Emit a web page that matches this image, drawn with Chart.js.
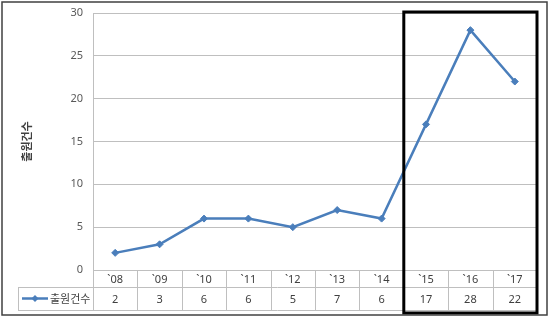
<!DOCTYPE html>
<html>
<head>
<meta charset="utf-8">
<script src="https://cdn.jsdelivr.net/npm/chart.js@4.4.1/dist/chart.umd.min.js"></script>
<style>
  html, body { margin: 0; padding: 0; background: #fff; }
  #wrap { width: 550px; height: 319px; }
</style>
</head>
<body>
<div id="wrap"><canvas id="chart" width="550" height="319"></canvas></div>
<script>
// Chart data
const years = ["`08", "`09", "`10", "`11", "`12", "`13", "`14", "`15", "`16", "`17"];
const counts = [2, 3, 6, 6, 5, 7, 6, 17, 28, 22];
const seriesName = "출원건수";
const yTicks = [0, 5, 10, 15, 20, 25, 30];
const highlightYears = ["`15", "`16", "`17"];

const FONT = "'Noto Sans', 'Noto Sans CJK KR', sans-serif";
const LINE_BLUE = "#4a7ebb";
const GRID = "#bfbfbf";

// Data table under the plot, frame and highlight box
const tablePlugin = {
  id: "dataTable",
  afterDraw(chart) {
    const ctx = chart.ctx;
    const xs = chart.scales.x;
    const area = chart.chartArea;
    const col = xs.getPixelForValue(1) - xs.getPixelForValue(0);
    const top = area.bottom;
    const mid = top + 17;
    const bot = top + 40;
    const legendLeft = 18;

    ctx.save();
    ctx.strokeStyle = GRID;
    ctx.lineWidth = 1;
    ctx.beginPath();
    // horizontal lines
    ctx.moveTo(legendLeft, mid + 0.5); ctx.lineTo(area.right, mid + 0.5);
    ctx.moveTo(legendLeft, bot + 0.5); ctx.lineTo(area.right, bot + 0.5);
    // vertical lines
    ctx.moveTo(legendLeft + 0.5, mid); ctx.lineTo(legendLeft + 0.5, bot);
    for (let i = 0; i <= years.length; i++) {
      const x = Math.round(xs.getPixelForValue(0) - col / 2 + i * col) + 0.5;
      ctx.moveTo(x, top); ctx.lineTo(x, bot);
    }
    ctx.stroke();

    // cell texts
    ctx.fillStyle = "#404040";
    ctx.font = "11px " + FONT;
    ctx.textAlign = "center";
    ctx.textBaseline = "middle";
    years.forEach((y, i) => {
      const x = xs.getPixelForValue(i);
      ctx.fillText(y, x, (top + mid) / 2 + 1);
      ctx.fillText(String(counts[i]), x, (mid + bot) / 2 + 1);
    });

    // legend key
    const ly = (mid + bot) / 2;
    ctx.strokeStyle = LINE_BLUE;
    ctx.lineWidth = 2.5;
    ctx.beginPath();
    ctx.moveTo(22, ly); ctx.lineTo(48, ly);
    ctx.stroke();
    ctx.fillStyle = LINE_BLUE;
    ctx.beginPath();
    ctx.moveTo(35, ly - 3.5); ctx.lineTo(38.5, ly); ctx.lineTo(35, ly + 3.5); ctx.lineTo(31.5, ly);
    ctx.closePath();
    ctx.fill();
    ctx.fillStyle = "#404040";
    ctx.textAlign = "left";
    ctx.fillText(seriesName, 50, ly + 1);

    // highlight box
    const first = years.indexOf(highlightYears[0]);
    const last = years.indexOf(highlightYears[highlightYears.length - 1]);
    const hx1 = xs.getPixelForValue(first) - col / 2;
    const hx2 = xs.getPixelForValue(last) + col / 2;
    ctx.strokeStyle = "#000";
    ctx.lineWidth = 3;
    ctx.strokeRect(hx1, area.top - 1, hx2 - hx1, bot + 3 - (area.top - 1));

    // outer frame
    ctx.strokeStyle = "#404040";
    ctx.lineWidth = 1.5;
    ctx.strokeRect(2, 2, 545, 313);
    ctx.restore();
  }
};

const ctx = document.getElementById("chart").getContext("2d");
new Chart(ctx, {
  type: "line",
  data: {
    labels: years,
    datasets: [
      {
        label: seriesName,
        data: counts,
        borderColor: LINE_BLUE,
        backgroundColor: LINE_BLUE,
        borderWidth: 2.5,
        pointStyle: "rectRot",
        pointRadius: 3.5,
        pointBorderWidth: 1,
        tension: 0,
      },
    ],
  },
  options: {
    responsive: false,
    animation: false,
    devicePixelRatio: 1,
    layout: {
      padding: { top: 13, right: 13, bottom: 49, left: 0 },
    },
    plugins: {
      legend: { display: false },
      tooltip: { enabled: false },
    },
    scales: {
      x: {
        display: false,
        offset: true,
      },
      y: {
        min: 0,
        max: 30,
        afterFit(scale) {
          scale.width = 93;
          scale.paddingTop = 0;
          scale.paddingBottom = 0;
        },
        afterBuildTicks(scale) {
          scale.ticks = yTicks.map((v) => ({ value: v }));
        },
        grid: {
          color: GRID,
          drawTicks: false,
        },
        border: { color: GRID },
        ticks: {
          padding: 10,
          color: "#595959",
          font: { family: FONT, size: 11 },
        },
        title: {
          display: true,
          text: seriesName,
          color: "#404040",
          font: { family: "'Noto Sans CJK KR', sans-serif", size: 11, weight: "bold" },
          padding: { top: 20, bottom: 0 },
        },
      },
    },
  },
  plugins: [tablePlugin],
});
</script>
</body>
</html>
